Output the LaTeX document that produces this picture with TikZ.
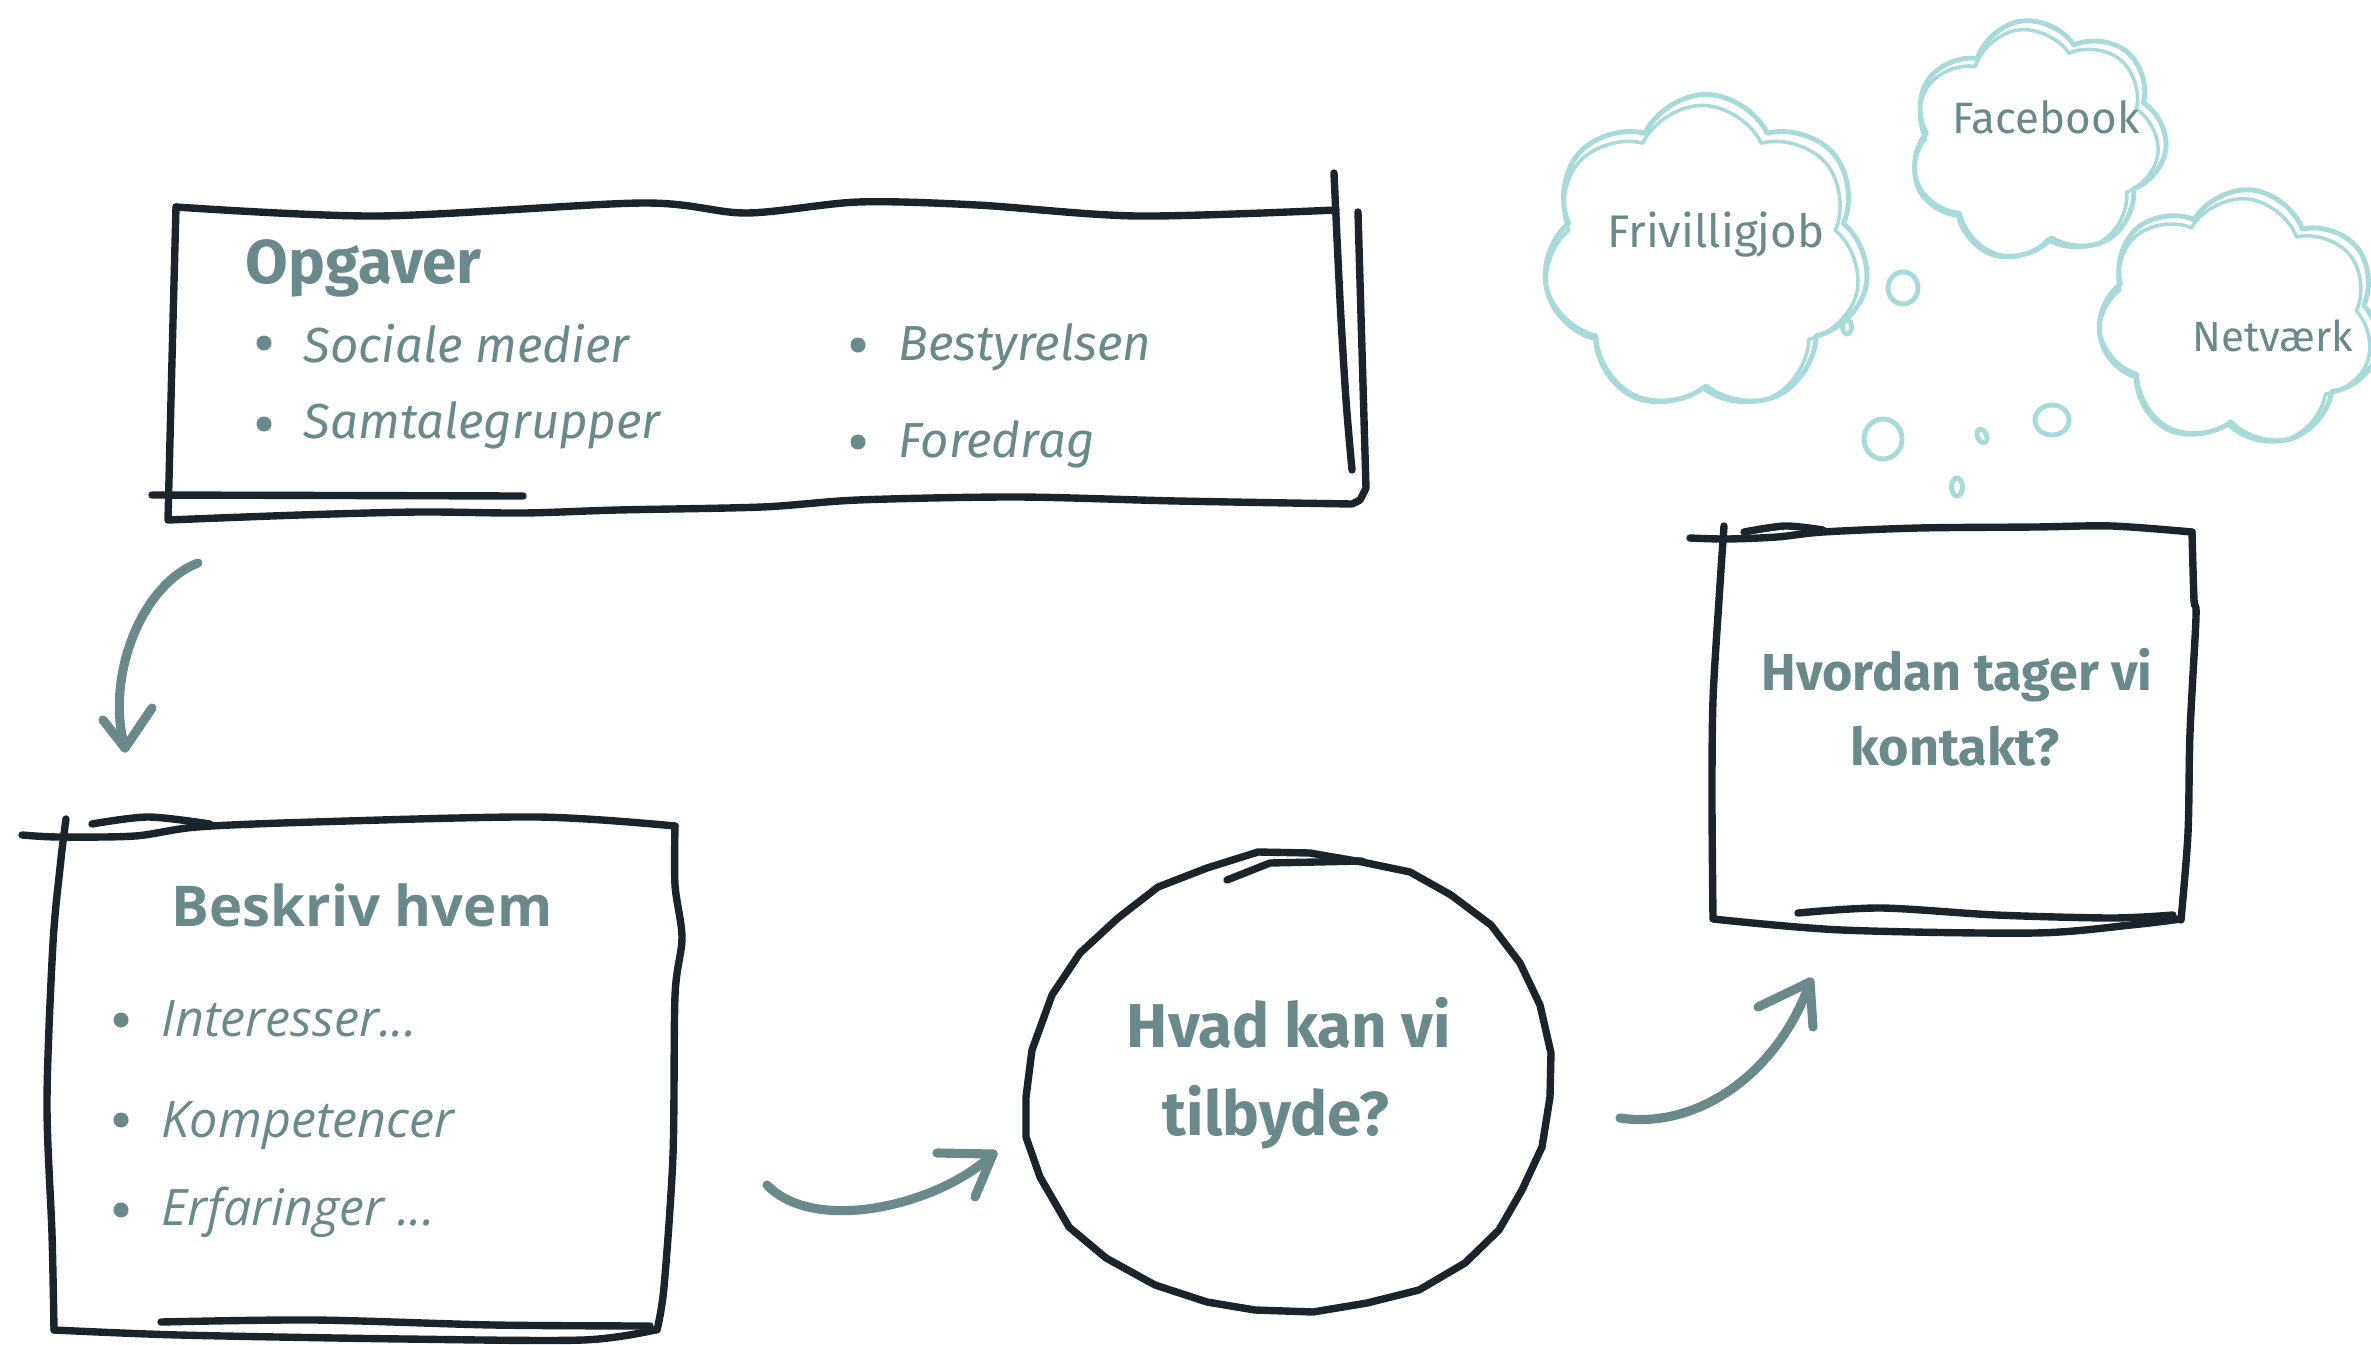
\documentclass[tikz,border=0pt]{standalone}
\usepackage{fontspec}
\setmainfont{Fira Sans}
\newfontfamily\osans{Open Sans}
\usetikzlibrary{shapes.symbols,shapes.geometric}
\definecolor{ink}{HTML}{1B242B}
\definecolor{txt}{HTML}{6A898B}
\definecolor{cl}{HTML}{A9DADB}
\tikzset{
  sketch/.style={draw=ink, line width=2.1pt, line cap=round, line join=round},
  arr/.style={draw=txt, line width=2.6pt, line cap=round, line join=round},
  cloudln/.style={draw=cl, line width=1.4pt, line join=round},
  cloudshape/.style={cloud, cloud puffs=7, cloud puff arc=130, aspect=1, cloudln, inner sep=0pt},
  ttl/.style={text=txt, inner sep=0pt, anchor=base west, font=\bfseries\fontsize{17.6}{21}\selectfont},
  itm/.style={text=txt, inner sep=0pt, anchor=base west, font=\itshape\fontsize{14}{17}\selectfont},
  bitm/.style={text=txt, inner sep=0pt, anchor=base west, font=\osans\itshape\fontsize{14.3}{17}\selectfont},
  big/.style={text=txt, inner sep=0pt, anchor=base, font=\bfseries\fontsize{17.6}{21}\selectfont},
  mid/.style={text=txt, inner sep=0pt, anchor=base, font=\bfseries\fontsize{14.8}{18}\selectfont},
  cltxt/.style={text=txt, inner sep=0pt, anchor=base, font=\fontsize{13}{16}\selectfont},
  dotb/.style={circle, fill=txt, inner sep=0pt, minimum size=0.15cm},
  area/.style={draw=none, inner sep=0pt}
}
\begin{document}
\begin{tikzpicture}[x=0.01cm,y=-0.01cm]
\useasboundingbox (0,0) rectangle (2371,1345);
\fill[white] (0,0) rectangle (2371,1345);

% ---------- named areas ----------
\node[area, minimum width=11.9cm, minimum height=3.1cm] (opg) at (770,362) {};
\node[area, minimum width=6.2cm, minimum height=5.1cm] (besk) at (365,1077) {};
\node[area, ellipse, minimum width=5.25cm, minimum height=4.5cm] (hvad) at (1290,1080) {};
\node[area, minimum width=4.7cm, minimum height=3.9cm] (kont) at (1953,725) {};

% ---------- Opgaver box ----------
\draw[sketch] plot[smooth, tension=0.5] coordinates {(176,207) (379,216) (642,203) (746,213) (858,202) (977,205) (1137,216) (1336,210)};
\draw[sketch] plot[smooth, tension=0.5] coordinates {(1334,173) (1340,300) (1346,400) (1352,470)};
\draw[sketch] plot[smooth, tension=0.4] coordinates {(1358,212) (1362,350) (1366,488)} -- (1360,500) -- (1352,504)
  plot[smooth, tension=0.5] coordinates {(1352,504) (1177,501) (1017,497) (858,500) (762,507) (618,510) (523,513) (419,512) (300,515) (168,520)}
  plot[smooth, tension=0.5] coordinates {(168,520) (172,360) (176,207)};
\draw[sketch] (152,495) -- (523,496);

\node[ttl] (opgt) at (245,283) {Opgaver};
\node[dotb] (d1) at (264,343) {};
\node[itm] (t1) at (303,362) {Sociale medier};
\node[dotb] (d2) at (264,424) {};
\node[itm] (t2) at (303,438) {Samtalegrupper};
\node[dotb] (d3) at (858,345) {};
\node[itm] (t3) at (898,360) {Bestyrelsen};
\node[dotb] (d4) at (858,442) {};
\node[itm] (t4) at (898,457) {Foredrag};

% ---------- Beskriv box ----------
\draw[sketch] plot[smooth, tension=0.5] coordinates {(22,835) (58,837) (135,836) (197,827) (314,822) (538,817) (675,826)};
\draw[sketch] plot[smooth, tension=0.5] coordinates {(92,824) (148,817) (210,824)};
\draw[sketch] plot[smooth, tension=0.5] coordinates {(66,819) (61,859) (53,943) (47,1102) (52,1234) (54,1330)};
\draw[sketch] plot[smooth, tension=0.5] coordinates {(675,826) (675,885) (682,938) (675,996) (673,1155) (664,1287) (657,1330)};
\draw[sketch] plot[smooth, tension=0.5] coordinates {(54,1330) (179,1335) (404,1339) (583,1340) (655,1330)};
\draw[sketch] plot[smooth, tension=0.5] coordinates {(161,1322) (314,1320) (493,1325) (650,1326)};

\node[text=txt, inner sep=0pt, anchor=base, font=\osans\bfseries\fontsize{16}{20}\selectfont] (beskt) at (362,926) {Beskriv hvem};
\node[dotb] (e1) at (121,1020) {};
\node[bitm] (u1) at (161,1036) {Interesser...};
\node[dotb] (e2) at (121,1120) {};
\node[bitm] (u2) at (161,1137) {Kompetencer};
\node[dotb] (e3) at (121,1210) {};
\node[bitm] (u3) at (161,1225) {Erfaringer ...};

% ---------- egg ----------
\draw[sketch] (1258,852) -- (1310,853) -- (1362,862) -- (1410,872) -- (1451,895) -- (1491,925) -- (1520,963) -- (1540,1005) -- (1551,1053) -- (1550,1097) -- (1542,1147) -- (1522,1190) -- (1499,1230) -- (1465,1263) -- (1419,1290) -- (1367,1303) -- (1313,1312) -- (1255,1310) -- (1207,1302) -- (1155,1285) -- (1106,1258) -- (1069,1227) -- (1040,1177) -- (1026,1137) -- (1026,1097) -- (1032,1050) -- (1052,995) -- (1080,953) -- (1118,918) -- (1158,887) -- (1207,868) -- cycle;
\draw[sketch] (1227,880) -- (1270,863) -- (1362,861);
\node[big] (hv1) at (1289,1047) {Hvad kan vi};
\node[big] (hv2) at (1276,1135) {tilbyde?};

% ---------- right box ----------
\draw[sketch] plot[smooth, tension=0.5] coordinates {(1690,538) (1727,539) (1777,537) (1823,532) (1919,528) (2035,527) (2112,526) (2192,532)};
\draw[sketch] plot[smooth, tension=0.5] coordinates {(1744,532) (1785,526) (1823,530)};
\draw[sketch] plot[smooth, tension=0.5] coordinates {(1724,526) (1719,600) (1713,700) (1712,800) (1713,918)};
\draw[sketch] plot[smooth, tension=0.5] coordinates {(1713,919) (1842,930) (2035,933) (2131,925) (2181,919)};
\draw[sketch] plot[smooth, tension=0.5] coordinates {(2192,532) (2194,600) (2196,617) (2190,733) (2188,833) (2181,920)};
\draw[sketch] plot[smooth, tension=0.5] coordinates {(1798,913) (1881,908) (1996,915) (2112,918) (2173,915)};
\node[mid] (hk1) at (1957,690) {Hvordan tager vi};
\node[mid] (hk2) at (1955,765) {kontakt?};

% ---------- arrows ----------
\coordinate (a1s) at (198,563);
\coordinate (a1e) at (125,748);
\draw[arr] (a1s) .. controls (140,585) and (105,680) .. (a1e);
\draw[arr] (103,720) -- (a1e) -- (152,708);

\coordinate (a2s) at (767,1185);
\coordinate (a2e) at (993,1154);
\draw[arr] (a2s) .. controls (815,1235) and (940,1205) .. (a2e);
\draw[arr] (937,1153) -- (a2e) -- (975,1197);

\coordinate (a3s) at (1620,1118);
\coordinate (a3e) at (1810,982);
\draw[arr] (a3s) .. controls (1700,1130) and (1780,1070) .. (a3e);
\draw[arr] (1758,1007) -- (a3e) -- (1813,1027);

% ---------- clouds ----------
\node[cloudshape, minimum width=3.27cm, minimum height=3.17cm] (c1) at (1706,253) {};
\node[cloudshape, line width=1pt, minimum width=3.17cm, minimum height=3.07cm] (c1b) at (1702,259) {};
\node[cloudshape, minimum width=2.57cm, minimum height=2.40cm, rotate=8] (c2) at (2038,140) {};
\node[cloudshape, line width=1pt, minimum width=2.49cm, minimum height=2.32cm, rotate=8] (c2b) at (2034,145) {};
\node[cloudshape, minimum width=2.83cm, minimum height=2.57cm, rotate=-5] (c3) at (2240,318) {};
\node[cloudshape, line width=1pt, minimum width=2.75cm, minimum height=2.49cm, rotate=-5] (c3b) at (2236,323) {};

\node[cltxt] (ct1) at (1716,247) {Frivilligjob};
\node[cltxt, font=\fontsize{12.5}{15}\selectfont] (ct2) at (2046,133) {Facebook};
\node[cltxt, font=\fontsize{12}{15}\selectfont] (ct3) at (2273,351) {Netværk};

% bubbles
\draw[cloudln] (1903,288) ellipse [x radius=0.15cm, y radius=0.16cm];
\draw[cloudln] (1883,439) ellipse [x radius=0.19cm, y radius=0.20cm];
\draw[cloudln] (2052,420) ellipse [x radius=0.17cm, y radius=0.15cm];
\draw[cloudln] (1847,327) ellipse [x radius=0.045cm, y radius=0.07cm];
\draw[cloudln, rotate around={25:(1982,436)}] (1982,436) ellipse [x radius=0.045cm, y radius=0.07cm];
\draw[cloudln] (1957,487) ellipse [x radius=0.055cm, y radius=0.09cm];
\end{tikzpicture}
\end{document}
